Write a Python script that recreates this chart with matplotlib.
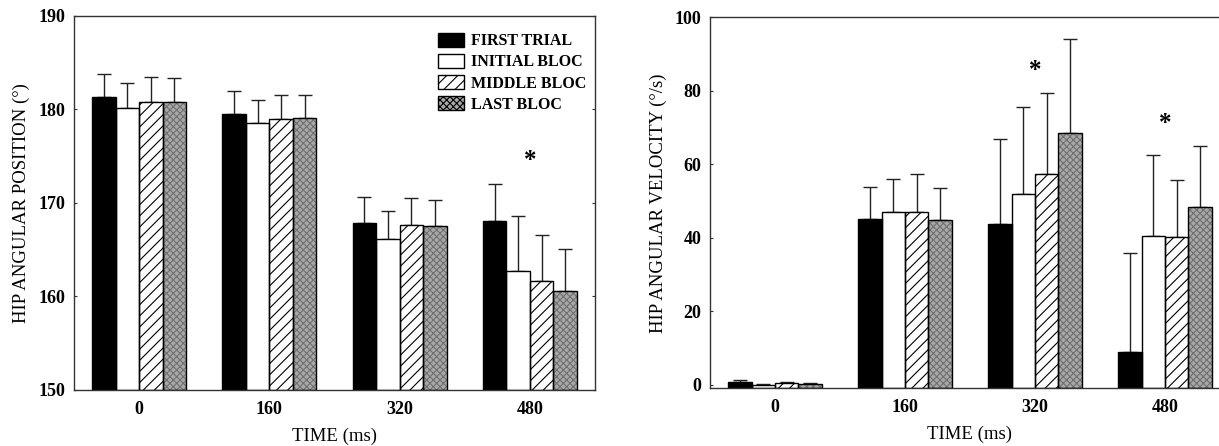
import numpy as np
import matplotlib
matplotlib.use('Agg')
import matplotlib.pyplot as plt
from matplotlib.patches import Patch

plt.rcParams['font.family'] = ['Liberation Serif', 'DejaVu Serif']
plt.rcParams['hatch.linewidth'] = 0.8

times = ['0', '160', '320', '480']
groups = ['FIRST TRIAL', 'INITIAL BLOC', 'MIDDLE BLOC', 'LAST BLOC']

# hip angular position (deg), mean and SD
pos_first = [181.3, 179.5, 167.9, 168.1]
pos_first_sd = [2.5, 2.5, 2.75, 3.9]
pos_initial = [180.2, 178.5, 166.1, 162.7]
pos_initial_sd = [2.6, 2.55, 3.0, 5.9]
pos_middle = [180.75, 178.95, 167.6, 161.7]
pos_middle_sd = [2.75, 2.55, 2.9, 4.9]
pos_last = [180.75, 179.1, 167.5, 160.6]
pos_last_sd = [2.65, 2.5, 2.8, 4.5]

# hip angular velocity (deg/s), mean and SD
vel_first = [0.7, 45.1, 43.8, 8.9]
vel_first_sd = [0.6, 8.7, 23.2, 26.9]
vel_initial = [0.1, 47.1, 52.0, 40.6]
vel_initial_sd = [0.3, 8.9, 23.7, 22.0]
vel_middle = [0.5, 47.1, 57.4, 40.3]
vel_middle_sd = [0.3, 10.3, 22.1, 15.5]
vel_last = [0.3, 44.8, 68.5, 48.5]
vel_last_sd = [0.3, 8.7, 25.7, 16.5]

# significance stars: (time index, y)
pos_stars = [(3, 174.5)]
vel_stars = [(2, 85.5), (3, 71.0)]

styles = [
    dict(face='black', hatch=None, hcol='black'),
    dict(face='white', hatch=None, hcol='black'),
    dict(face='white', hatch='///', hcol='black'),
    dict(face='#a8a8a8', hatch='xxxxx', hcol='#707070'),
]


def draw_panel(ax, means, sds, stars, ylim, yticks, ylabel):
    x = np.arange(len(times))
    w = 0.18
    for i, (m, s) in enumerate(zip(means, sds)):
        xs = x + (i - 1.5) * w
        st = styles[i]
        hgt = np.array(m) - ylim[0]
        # fill (+hatch) first, then a black outline on top
        ax.bar(xs, hgt, w, bottom=ylim[0], color=st['face'], edgecolor=st['hcol'],
               hatch=st['hatch'], lw=0, zorder=2)
        ax.bar(xs, hgt, w, bottom=ylim[0], fill=False, edgecolor='black', lw=1, zorder=3)
        ax.errorbar(xs, m, yerr=[np.zeros(len(s)), s], fmt='none', ecolor='#222222',
                    elinewidth=1, capsize=5, capthick=1, zorder=1)
    for gi, yv in stars:
        ax.text(gi, yv, '*', ha='center', va='center', fontsize=18, fontweight='bold')
    ax.set_xlim(-0.5, 3.5)
    ax.set_ylim(*ylim)
    ax.set_yticks(yticks)
    ax.set_xticks(x)
    ax.set_xticklabels(times)
    for lab in ax.get_xticklabels() + ax.get_yticklabels():
        lab.set_fontweight('bold')
        lab.set_fontsize(13)
    ax.tick_params(axis='x', length=0, pad=8)
    ax.tick_params(axis='y', which='both', left=True, right=True, direction='in',
                   length=2.5, pad=6, color='#333333')
    for sp in ax.spines.values():
        sp.set_color('#333333')
        sp.set_linewidth(1)
    ax.set_xlabel('TIME (ms)', fontsize=13.5, labelpad=7)
    ax.set_ylabel(ylabel, fontsize=13.5, labelpad=6)


fig = plt.figure(figsize=(12.19, 4.46), dpi=100)
ax1 = fig.add_axes([0.0607, 0.1256, 0.4274, 0.8386])
ax2 = fig.add_axes([0.5824, 0.1294, 0.4266, 0.8318])

draw_panel(ax1, [pos_first, pos_initial, pos_middle, pos_last],
           [pos_first_sd, pos_initial_sd, pos_middle_sd, pos_last_sd],
           pos_stars, (150, 190), [150, 160, 170, 180, 190],
           'HIP ANGULAR POSITION (°)')
draw_panel(ax2, [vel_first, vel_initial, vel_middle, vel_last],
           [vel_first_sd, vel_initial_sd, vel_middle_sd, vel_last_sd],
           vel_stars, (-0.9, 100), [0, 20, 40, 60, 80, 100],
           'HIP ANGULAR VELOCITY (°/s)')

handles = [Patch(facecolor=st['face'], edgecolor='black', hatch=st['hatch'], lw=1)
           for st in styles]
ax1.legend(handles, groups, loc='upper left', bbox_to_anchor=(0.699, 0.955), frameon=False,
           borderpad=0, borderaxespad=0, handlelength=1.6, handleheight=0.95,
           handletextpad=0.45, labelspacing=0.3,
           prop={'family': 'Liberation Serif', 'weight': 'bold', 'size': 11.5})

fig.savefig('out.png', dpi=100)
